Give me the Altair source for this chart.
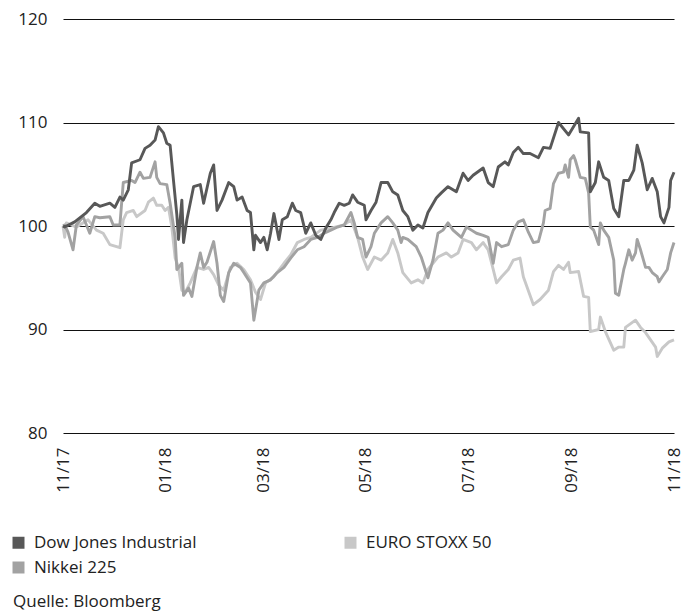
import altair as alt
import pandas as pd

START = "2017-11-01"
SERIES = ["Dow Jones Industrial", "Nikkei 225", "EURO STOXX 50"]
COLORS = ["#585858", "#a2a2a2", "#c8c8c8"]

dow_day = [0, 1, 7, 14, 19, 22, 28, 31, 34, 36, 39, 41, 46, 49, 52, 55, 57, 60, 62, 64,
           66, 68, 69, 71, 72, 74, 78, 82, 84, 88, 90, 92, 95, 99, 102, 104, 107, 110, 112, 114,
           115, 118, 120, 122, 124, 126, 129, 131, 134, 137, 139, 142, 145, 148, 151, 154, 157, 160, 162, 165,
           168, 171, 173, 176, 180, 181, 184, 187, 190, 194, 197, 200, 203, 206, 209, 212, 215, 218, 223, 226,
           230, 235, 239, 242, 245, 251, 254, 257, 260, 264, 266, 269, 272, 275, 279, 284, 287, 291, 296, 302,
           308, 309, 314, 315, 318, 320, 323, 326, 329, 332, 335, 338, 341, 343, 346, 349, 352, 355, 357, 359,
           362, 363, 365]
dow_val = [100.0, 99.9, 100.4, 101.3, 102.2, 101.9, 102.2, 101.8, 102.8, 102.5, 103.5, 106.1, 106.4, 107.5, 107.8, 108.3, 109.6, 109.0, 108.0, 107.8,
           104.4, 101.1, 98.7, 102.5, 98.4, 100.6, 103.8, 104.0, 102.2, 105.1, 105.9, 101.5, 102.5, 104.2, 103.8, 102.5, 102.8, 101.5, 101.3, 97.7,
           99.1, 98.4, 98.9, 97.7, 99.3, 101.2, 98.7, 100.6, 100.9, 102.2, 101.5, 101.3, 99.3, 100.3, 99.1, 98.7, 99.8, 100.6, 101.3, 102.2,
           102.0, 102.2, 103.0, 102.3, 102.0, 100.6, 101.5, 102.3, 104.2, 104.2, 103.3, 103.0, 101.5, 100.9, 99.6, 100.1, 99.8, 101.3, 102.7, 103.2,
           103.8, 103.3, 105.1, 104.4, 104.9, 105.6, 104.2, 103.8, 105.7, 106.2, 105.9, 107.1, 107.6, 107.0, 107.0, 106.6, 107.6, 107.5, 110.0, 108.8,
           110.4, 109.1, 109.0, 103.3, 104.2, 106.2, 104.7, 104.4, 101.7, 100.9, 104.4, 104.4, 105.4, 107.8, 106.1, 103.5, 104.6, 103.3, 100.9, 100.3,
           101.8, 104.4, 105.2]

nikkei_day = [0, 1, 3, 6, 8, 12, 16, 19, 22, 28, 30, 34, 36, 41, 43, 46, 48, 52, 55, 56,
              58, 62, 64, 67, 68, 71, 72, 75, 77, 80, 82, 84, 86, 90, 92, 94, 96, 99, 102, 106,
              108, 112, 114, 117, 120, 124, 128, 132, 136, 140, 144, 148, 152, 156, 160, 164, 168, 172, 174, 176,
              179, 181, 184, 186, 190, 194, 197, 200, 202, 203, 206, 211, 214, 217, 218, 221, 224, 227, 230, 233,
              238, 241, 244, 247, 251, 254, 257, 259, 262, 266, 269, 272, 275, 278, 281, 284, 287, 288, 291, 293,
              296, 299, 300, 302, 303, 305, 306, 309, 312, 314, 315, 317, 320, 321, 323, 326, 329, 330, 332, 335,
              336, 338, 340, 342, 343, 345, 348, 350, 352, 355, 356, 358, 361, 363, 365]
nikkei_val = [100.0, 100.1, 99.4, 97.7, 100.1, 100.9, 99.3, 100.9, 100.8, 100.9, 100.1, 100.1, 104.2, 104.4, 104.2, 105.2, 104.6, 104.7, 106.2, 104.7,
              104.1, 104.0, 102.2, 98.9, 95.8, 96.4, 93.3, 94.0, 93.2, 96.0, 97.4, 96.0, 96.5, 98.5, 96.4, 93.3, 92.7, 95.5, 96.4, 96.0,
              95.5, 94.5, 90.9, 93.8, 94.5, 94.8, 95.5, 96.0, 96.9, 97.7, 98.0, 98.7, 98.9, 99.3, 99.6, 99.9, 100.1, 101.3, 100.3, 98.9,
              98.7, 97.0, 98.0, 99.3, 100.3, 100.9, 100.3, 99.6, 98.4, 98.9, 98.7, 98.0, 97.0, 95.5, 95.0, 96.7, 99.3, 99.6, 100.3, 99.6,
              98.9, 99.9, 99.6, 99.3, 99.1, 98.9, 96.4, 98.4, 98.0, 98.2, 99.6, 100.4, 100.6, 99.4, 98.4, 98.5, 100.3, 101.5, 101.7, 104.1,
              105.1, 105.2, 105.9, 104.7, 106.4, 106.8, 106.4, 104.7, 104.6, 103.2, 99.9, 99.6, 98.2, 100.3, 99.6, 98.9, 96.7, 93.5, 93.3, 95.8,
              96.4, 97.7, 96.7, 97.4, 98.7, 97.7, 96.0, 96.0, 95.5, 95.1, 94.6, 95.1, 95.8, 97.4, 98.4]

euro_day = [0, 1, 2, 8, 15, 20, 24, 28, 32, 34, 36, 38, 42, 44, 49, 51, 54, 56, 59, 61,
            63, 65, 67, 69, 71, 73, 76, 80, 84, 87, 90, 93, 96, 100, 104, 108, 112, 115, 118, 121,
            126, 132, 136, 140, 144, 148, 154, 160, 168, 172, 176, 179, 182, 186, 190, 194, 197, 200, 203, 208,
            212, 215, 218, 221, 224, 229, 232, 236, 239, 244, 247, 251, 254, 257, 259, 262, 266, 269, 273, 275,
            281, 285, 290, 293, 296, 299, 302, 303, 308, 311, 314, 315, 320, 321, 324, 329, 332, 335, 336, 342,
            345, 348, 351, 354, 355, 358, 362, 365]
euro_val = [100.0, 98.9, 100.3, 99.9, 100.6, 99.6, 99.3, 98.2, 98.0, 97.9, 100.6, 101.3, 101.5, 100.9, 101.5, 102.3, 102.7, 102.0, 102.0, 101.5,
            101.8, 99.9, 96.9, 96.0, 93.8, 93.6, 94.5, 96.0, 95.8, 96.0, 95.3, 94.3, 93.8, 96.0, 96.4, 95.8, 94.8, 93.6, 92.9, 94.5,
            95.1, 96.4, 97.2, 98.4, 98.7, 98.9, 99.6, 99.8, 100.1, 100.6, 98.9, 97.0, 95.8, 97.0, 96.7, 97.4, 98.7, 97.4, 95.5, 94.5,
            94.8, 94.5, 95.8, 96.4, 97.0, 97.4, 97.0, 97.4, 98.7, 98.4, 97.7, 98.4, 97.7, 95.8, 94.5, 95.1, 95.8, 96.7, 96.9, 95.1,
            92.4, 92.9, 93.8, 95.6, 96.2, 95.8, 96.5, 95.5, 95.6, 93.2, 93.1, 89.8, 90.0, 91.2, 89.8, 88.0, 88.3, 88.3, 90.2, 90.9,
            90.2, 89.7, 89.0, 88.3, 87.4, 88.2, 88.8, 89.0]

y_ticks = [80, 90, 100, 110, 120]
x_ticks = ["2017-11-01", "2018-01-01", "2018-03-01", "2018-05-01", "2018-07-01", "2018-09-01", "2018-11-01"]


def frame(name, days, vals):
    dates = pd.Timestamp(START) + pd.to_timedelta(days, unit="D")
    return pd.DataFrame({"date": dates.strftime("%Y-%m-%d"), "value": vals, "index": name})


# drawing order: light first, dark on top
df = pd.concat([
    frame("EURO STOXX 50", euro_day, euro_val),
    frame("Nikkei 225", nikkei_day, nikkei_val),
    frame("Dow Jones Industrial", dow_day, dow_val),
], ignore_index=True)

FONT = "Open Sans"
TXT = "#222222"

tick_dt = []
for s in x_ticks:
    y, m, d = s.split("-")
    tick_dt.append(alt.DateTime(year=int(y), month=int(m), date=int(d), utc=True))

color_scale = alt.Scale(domain=SERIES, range=COLORS)

lines = alt.Chart(df).mark_line(strokeWidth=2.9, strokeJoin="round").encode(
    x=alt.X("date:T", title=None,
            scale=alt.Scale(type="utc", domain=[tick_dt[0], tick_dt[-1]], nice=False),
            axis=alt.Axis(values=tick_dt, labelExpr="utcFormat(datum.value, '%m/%y')",
                          labelAngle=-90, grid=False, domain=False, ticks=False, labelPadding=14,
                          labelFontSize=17, labelFont=FONT, labelColor=TXT,
                          labelOverlap=False, labelFlush=False)),
    y=alt.Y("value:Q", title=None,
            scale=alt.Scale(domain=[80, 120], nice=False, zero=False),
            axis=alt.Axis(values=y_ticks, grid=True, gridColor="#111111", gridWidth=1.1,
                          domain=False, ticks=False, labelPadding=16,
                          labelFontSize=17, labelFont=FONT, labelColor=TXT)),
    color=alt.Color("index:N", title=None, scale=color_scale, legend=None),
    detail="index:N",
)

# invisible filled squares, used only to give the legend filled square swatches
swatches = alt.Chart(pd.DataFrame({"index": SERIES})).mark_square(opacity=0, filled=True).encode(
    color=alt.Color("index:N", title=None, scale=color_scale,
                    legend=alt.Legend(orient="none", legendX=-53, legendY=515, columns=2,
                                      symbolType="square", symbolSize=144, symbolStrokeWidth=0,
                                      symbolOpacity=1, labelFontSize=17, labelFont=FONT,
                                      labelColor=TXT, labelOffset=7, columnPadding=145,
                                      rowPadding=7, labelLimit=300)),
)

source = alt.Chart(pd.DataFrame({"t": ["Quelle: Bloomberg"]})).mark_text(
    align="left", baseline="middle", fontSize=17, font=FONT, color=TXT
).encode(x=alt.value(-50), y=alt.value(583), text="t:N")

chart = alt.layer(swatches, lines, source).properties(
    width=611, height=414,
    autosize=alt.AutoSizeParams(type="none"),
    padding={"left": 55, "top": 11, "right": 11, "bottom": 180},
).configure_view(stroke=None)

chart.save("out.html", embed_options={"renderer": "svg", "actions": False})
